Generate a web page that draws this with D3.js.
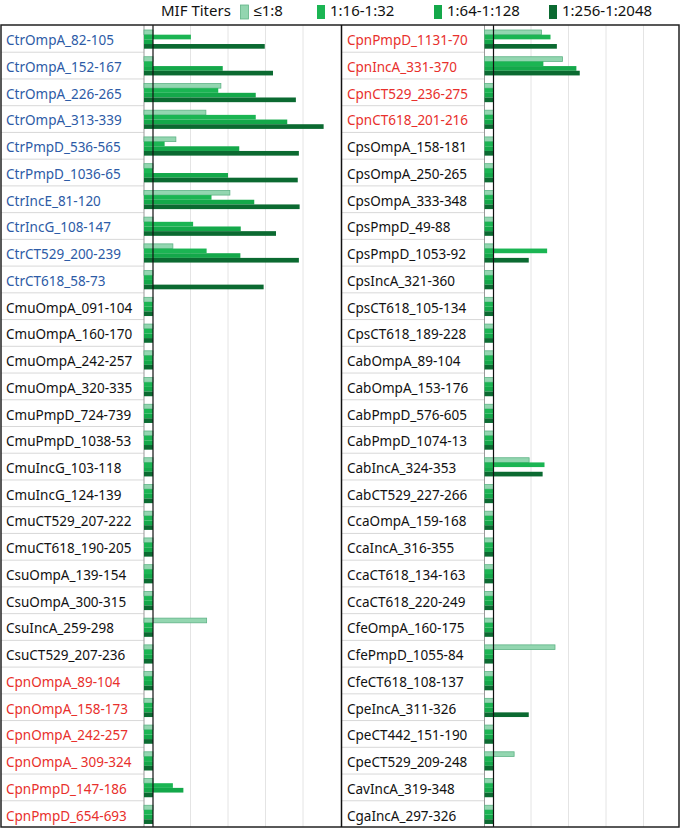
<!DOCTYPE html>
<html>
<head>
  <title>MIF titers</title>
  <script type="text/javascript" src="https://d3js.org/d3.v7.min.js"></script>
  <style type="text/css">
    body {
      margin: 0px;
      background: #fff;
      font-family: "Noto Sans", sans-serif;
    }
  </style>
</head>
<body>
  <svg width="680" height="829"></svg>
  <script type="text/javascript">
    var titers = ["≤1:8", "1:16-1:32", "1:64-1:128", "1:256-1:2048"];
    var colors = ["#93d6b0", "#1bb553", "#14a84a", "#0b6a31"];

    var leftLabels = ["CtrOmpA_82-105", "CtrOmpA_152-167", "CtrOmpA_226-265", "CtrOmpA_313-339",
      "CtrPmpD_536-565", "CtrPmpD_1036-65", "CtrIncE_81-120", "CtrIncG_108-147", "CtrCT529_200-239",
      "CtrCT618_58-73", "CmuOmpA_091-104", "CmuOmpA_160-170", "CmuOmpA_242-257", "CmuOmpA_320-335",
      "CmuPmpD_724-739", "CmuPmpD_1038-53", "CmuIncG_103-118", "CmuIncG_124-139", "CmuCT529_207-222",
      "CmuCT618_190-205", "CsuOmpA_139-154", "CsuOmpA_300-315", "CsuIncA_259-298", "CsuCT529_207-236",
      "CpnOmpA_89-104", "CpnOmpA_158-173", "CpnOmpA_242-257", "CpnOmpA_ 309-324", "CpnPmpD_147-186",
      "CpnPmpD_654-693"];
    var leftT8    = [0, 0, 1.81, 1.41, 0.61, 0, 2.05, 0, 0.53, 0,  0, 0, 0, 0, 0, 0, 0, 0, 0, 0,  0, 0, 1.43, 0, 0, 0, 0, 0, 0, 0];
    var leftT32   = [1.01, 0, 1.74, 2.74, 0.31, 0, 1.56, 1.07, 1.43, 0,  0, 0, 0, 0, 0, 0, 0, 0, 0, 0,  0, 0, 0, 0, 0, 0, 0, 0, 0.53, 0];
    var leftT128  = [0, 1.86, 2.74, 3.58, 2.30, 2.0, 2.70, 2.34, 2.33, 0,  0, 0, 0, 0, 0, 0, 0, 0, 0, 0,  0, 0, 0, 0, 0, 0, 0, 0, 0.81, 0];
    var leftT2048 = [2.98, 3.2, 3.81, 4.55, 3.89, 3.86, 3.91, 3.28, 3.89, 2.95,  0, 0, 0, 0, 0, 0, 0, 0, 0, 0,  0, 0, 0, 0, 0, 0, 0, 0, 0, 0];

    var rightLabels = ["CpnPmpD_1131-70", "CpnIncA_331-370", "CpnCT529_236-275", "CpnCT618_201-216",
      "CpsOmpA_158-181", "CpsOmpA_250-265", "CpsOmpA_333-348", "CpsPmpD_49-88", "CpsPmpD_1053-92",
      "CpsIncA_321-360", "CpsCT618_105-134", "CpsCT618_189-228", "CabOmpA_89-104", "CabOmpA_153-176",
      "CabPmpD_576-605", "CabPmpD_1074-13", "CabIncA_324-353", "CabCT529_227-266", "CcaOmpA_159-168",
      "CcaIncA_316-355", "CcaCT618_134-163", "CcaCT618_220-249", "CfeOmpA_160-175", "CfePmpD_1055-84",
      "CfeCT618_108-137", "CpeIncA_311-326", "CpeCT442_151-190", "CpeCT529_209-248", "CavIncA_319-348",
      "CgaIncA_297-326"];
    var rightT8    = [1.28, 1.84, 0, 0, 0, 0, 0, 0, 0, 0,  0, 0, 0, 0, 0, 0, 0.95, 0, 0, 0,  0, 0, 0, 1.64, 0, 0, 0, 0.55, 0, 0];
    var rightT32   = [1.52, 1.33, 0, 0, 0, 0, 0, 0, 1.43, 0,  0, 0, 0, 0, 0, 0, 1.36, 0, 0, 0,  0, 0, 0, 0, 0, 0, 0, 0, 0, 0];
    var rightT128  = [0, 2.21, 0, 0, 0, 0, 0, 0, 0, 0,  0, 0, 0, 0, 0, 0, 0, 0, 0, 0,  0, 0, 0, 0, 0, 0, 0, 0, 0, 0];
    var rightT2048 = [1.69, 2.30, 0, 0, 0, 0, 0, 0, 0.94, 0,  0, 0, 0, 0, 0, 0, 1.31, 0, 0, 0,  0, 0, 0, 0, 0, 0.94, 0, 0, 0, 0];

    var gridTicks = [1, 2, 3, 4];

    var svg = d3.select("svg");
    var plotTop = 25, plotBottom = 827;

    function labelColor(name){
      if (name.startsWith("Ctr")) return "#2d5ba6";
      if (name.startsWith("Cpn")) return "#e8302c";
      return "#111";
    }

    function drawPanel(labels, series, left, plotStart, plotEnd){
      var x = d3.scaleLinear().domain([-0.24, 5]).range([plotStart, plotEnd]);
      var y = d3.scaleBand().domain(labels).range([plotTop, plotBottom]);
      var yIn = d3.scaleBand().domain(titers).range([5, 23.7]);
      var g = svg.append("g");

      // grid
      g.selectAll(".grid").data(gridTicks).enter().append("line")
        .attr("x1", d => x(d)).attr("x2", d => x(d))
        .attr("y1", plotTop).attr("y2", plotBottom)
        .attr("stroke", "#e4e4e4").attr("stroke-width", 1);

      // row separators in the label column
      g.selectAll(".sep").data(labels.slice(1)).enter().append("line")
        .attr("x1", left).attr("x2", plotStart)
        .attr("y1", d => y(d) + 0.5).attr("y2", d => y(d) + 0.5)
        .attr("stroke", "#d8d8d8").attr("stroke-width", 1);

      g.append("line")
        .attr("x1", plotStart).attr("x2", plotStart)
        .attr("y1", plotTop).attr("y2", plotBottom)
        .attr("stroke", "#999").attr("stroke-width", 1);

      var rows = labels.map(function(name, i){
        return {name: name, vals: series.map(s => s[i])};
      });

      var row = g.selectAll(".row").data(rows).enter().append("g")
        .attr("transform", d => `translate(0,${y(d.name)})`);

      row.selectAll("rect").data(d => d.vals.map((v, k) => ({v: v, t: titers[k], k: k})))
        .enter().append("rect")
        .attr("x", x(-0.24))
        .attr("y", d => yIn(d.t))
        .attr("width", d => x(d.v) - x(-0.24))
        .attr("height", yIn.bandwidth())
        .attr("fill", d => colors[d.k])
        .attr("stroke", d => d.k == 0 ? "#5fb386" : "none")
        .attr("stroke-width", 0.8);

      row.append("text")
        .attr("x", left + 5)
        .attr("y", 20.3)
        .attr("font-size", "13.5px")
        .attr("fill", d => labelColor(d.name))
        .text(d => d.name);

      // zero line
      g.append("line")
        .attr("x1", x(0)).attr("x2", x(0))
        .attr("y1", plotTop).attr("y2", plotBottom)
        .attr("stroke", "#111").attr("stroke-width", 1.2);
    }

    drawPanel(leftLabels, [leftT8, leftT32, leftT128, leftT2048], 1, 144, 340.5);
    drawPanel(rightLabels, [rightT8, rightT32, rightT128, rightT2048], 342, 484.5, 681);

    // frame
    svg.append("rect")
      .attr("x", 1).attr("y", plotTop).attr("width", 678).attr("height", plotBottom - plotTop)
      .attr("fill", "none").attr("stroke", "#222").attr("stroke-width", 1.5);
    svg.append("line")
      .attr("x1", 341.5).attr("x2", 341.5).attr("y1", plotTop).attr("y2", plotBottom)
      .attr("stroke", "#111").attr("stroke-width", 1.5);

    // legend
    var legend = svg.append("g");
    legend.append("text").attr("x", 161).attr("y", 16)
      .attr("font-size", "15px").attr("fill", "#111").text("MIF Titers");
    var legX = [240.5, 317, 434, 549];
    var li = legend.selectAll(".li").data(titers).enter().append("g")
      .attr("transform", (d, i) => `translate(${legX[i]},0)`);
    li.append("rect").attr("x", 0).attr("y", 5).attr("width", 8).attr("height", 14)
      .attr("fill", (d, i) => colors[i])
      .attr("stroke", (d, i) => i == 0 ? "#5fb386" : "none").attr("stroke-width", 0.8);
    li.append("text").attr("x", 13).attr("y", 16)
      .attr("font-size", "15px").attr("fill", "#111").text(d => d);
  </script>
</body>
</html>
